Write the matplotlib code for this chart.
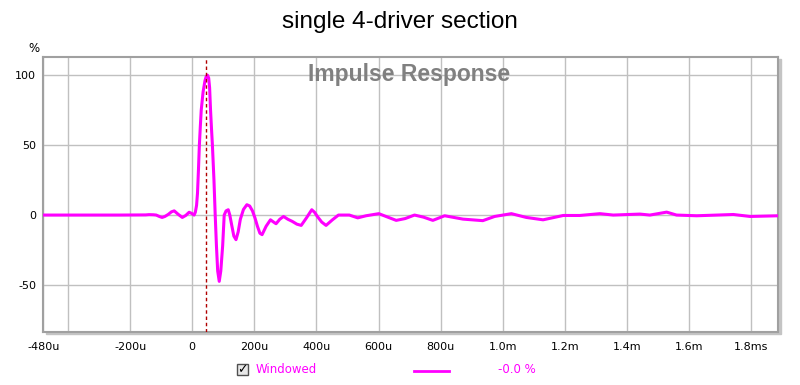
import matplotlib
matplotlib.use("Agg")
import matplotlib.pyplot as plt
from matplotlib.patches import Rectangle

plt.rcParams["axes.unicode_minus"] = False

# impulse response, time in microseconds, amplitude in %
time_us = [-484, -235, -150, -139, -125, -116, -106, -97, -88, -77, -67, -58,
           -45, -32, -21, -10, -2, 6, 10, 14, 17, 20, 23, 26, 29, 35,
           41, 45, 49, 53, 56, 59, 62, 65, 70, 74, 78, 82, 87, 92, 98, 103,
           109, 116, 121, 127, 134, 141, 148, 155, 165, 176, 185, 194,
           202, 210, 218, 225, 238, 252, 262, 270, 282, 294, 308, 322, 337,
           351, 368, 385, 394, 403, 417, 431, 451, 471, 506, 533,
           560, 601, 630, 657, 686, 716, 745, 775, 813, 872, 936, 974, 1028,
           1076, 1130, 1195, 1248, 1313, 1356, 1442, 1474, 1500, 1528, 1560,
           1625, 1743, 1797, 1890]
level_pct = [0, 0, 0.1, 0.3, 0.2, 0, -1, -1.7, -1, 0.5, 2.3, 3,
             0.5, -1.7, -0.3, 2, 1.2, 0, 2, 7, 15.7, 32, 50, 63, 75, 88,
             96, 99, 100, 98, 91, 75, 62, 50, 25, 0, -22, -40, -47.4, -40, -22, 0,
             3, 3.8, 0, -7, -15, -17.6, -12, -3, 4, 7.4, 6.5, 3,
             -2, -8, -13, -14, -8, -3.4, -5, -6.2, -3, -1, -3, -4.5, -6.5,
             -7.4, -2, 3.8, 2, -1, -5, -7.4, -3.5, 0, 0, -2,
             -0.5, 1, -1.5, -3.8, -2.5, 0, -1.5, -3.8, -0.5, -2.9, -4, -1, 1,
             -1.7, -3.4, -0.3, -0.3, 1, 0, 0.7, 0, 1, 2.1, 0,
             -0.5, 0.4, -1, -0.5]

marker_us = 45
xtick_pos = [-480, -200, 0, 200, 400, 600, 800, 1000, 1200, 1400, 1600, 1800]
xtick_lbl = ["-480u", "-200u", "0", "200u", "400u", "600u", "800u",
             "1.0m", "1.2m", "1.4m", "1.6m", "1.8ms"]
ytick_pos = [-50, 0, 50, 100]

fig = plt.figure(figsize=(8, 3.85), dpi=100)
ax = fig.add_axes([0.054, 0.138, 0.919, 0.714])

# drop shadow behind the frame
fig.patches.append(Rectangle((0.054 + 0.003, 0.138 - 0.006), 0.919, 0.714,
                             transform=fig.transFigure, color="#c4c4c4",
                             zorder=-1))

ax.plot(time_us, level_pct, color="#ff00ff", lw=2.2, zorder=3,
        solid_joinstyle="round")
ax.axvline(marker_us, color="#b00000", lw=1, ls=(0, (2.5, 2)), zorder=4)

ax.set_xlim(-480, 1888)
ax.set_ylim(-83.5, 113)
ax.set_xticks(xtick_pos)
ax.set_xticklabels(xtick_lbl)
ax.set_xticks([-400], minor=True)
ax.set_yticks(ytick_pos)
ax.grid(True, which="both", color="#c0c0c0", lw=1)
ax.set_axisbelow(True)
ax.tick_params(which="both", length=0, labelsize=8, pad=7)
ax.tick_params(axis="y", pad=5)
for s in ax.spines.values():
    s.set_color("#a0a0a0")
    s.set_linewidth(1.5)

fig.text(0.5, 0.943, "single 4-driver section", ha="center", va="center",
         fontsize=17.5, family="Liberation Sans")
ax.text(0.497, 0.935, "Impulse Response", transform=ax.transAxes, ha="center",
        va="center", fontsize=16.5, fontweight="bold", color="#808080",
        family="Liberation Sans")
fig.text(0.042, 0.873, "%", ha="center", va="center", fontsize=8.5)

# legend row under the axis
fig.patches.append(Rectangle((0.296, 0.025), 0.014, 0.03,
                             transform=fig.transFigure, facecolor="#e8e8e8",
                             edgecolor="#505050", lw=1))
fig.text(0.303, 0.04, "\u2713", ha="center", va="center", fontsize=9,
         fontweight="bold")
fig.text(0.32, 0.04, "Windowed", ha="left", va="center", fontsize=8.5,
         color="#ff00ff")
fig.lines.append(plt.Line2D([0.517, 0.561], [0.037, 0.037],
                            transform=fig.transFigure, color="#ff00ff", lw=2))
fig.text(0.622, 0.04, "-0.0 %", ha="left", va="center", fontsize=8.5,
         color="#ff00ff")

fig.savefig("out.png", dpi=100)
